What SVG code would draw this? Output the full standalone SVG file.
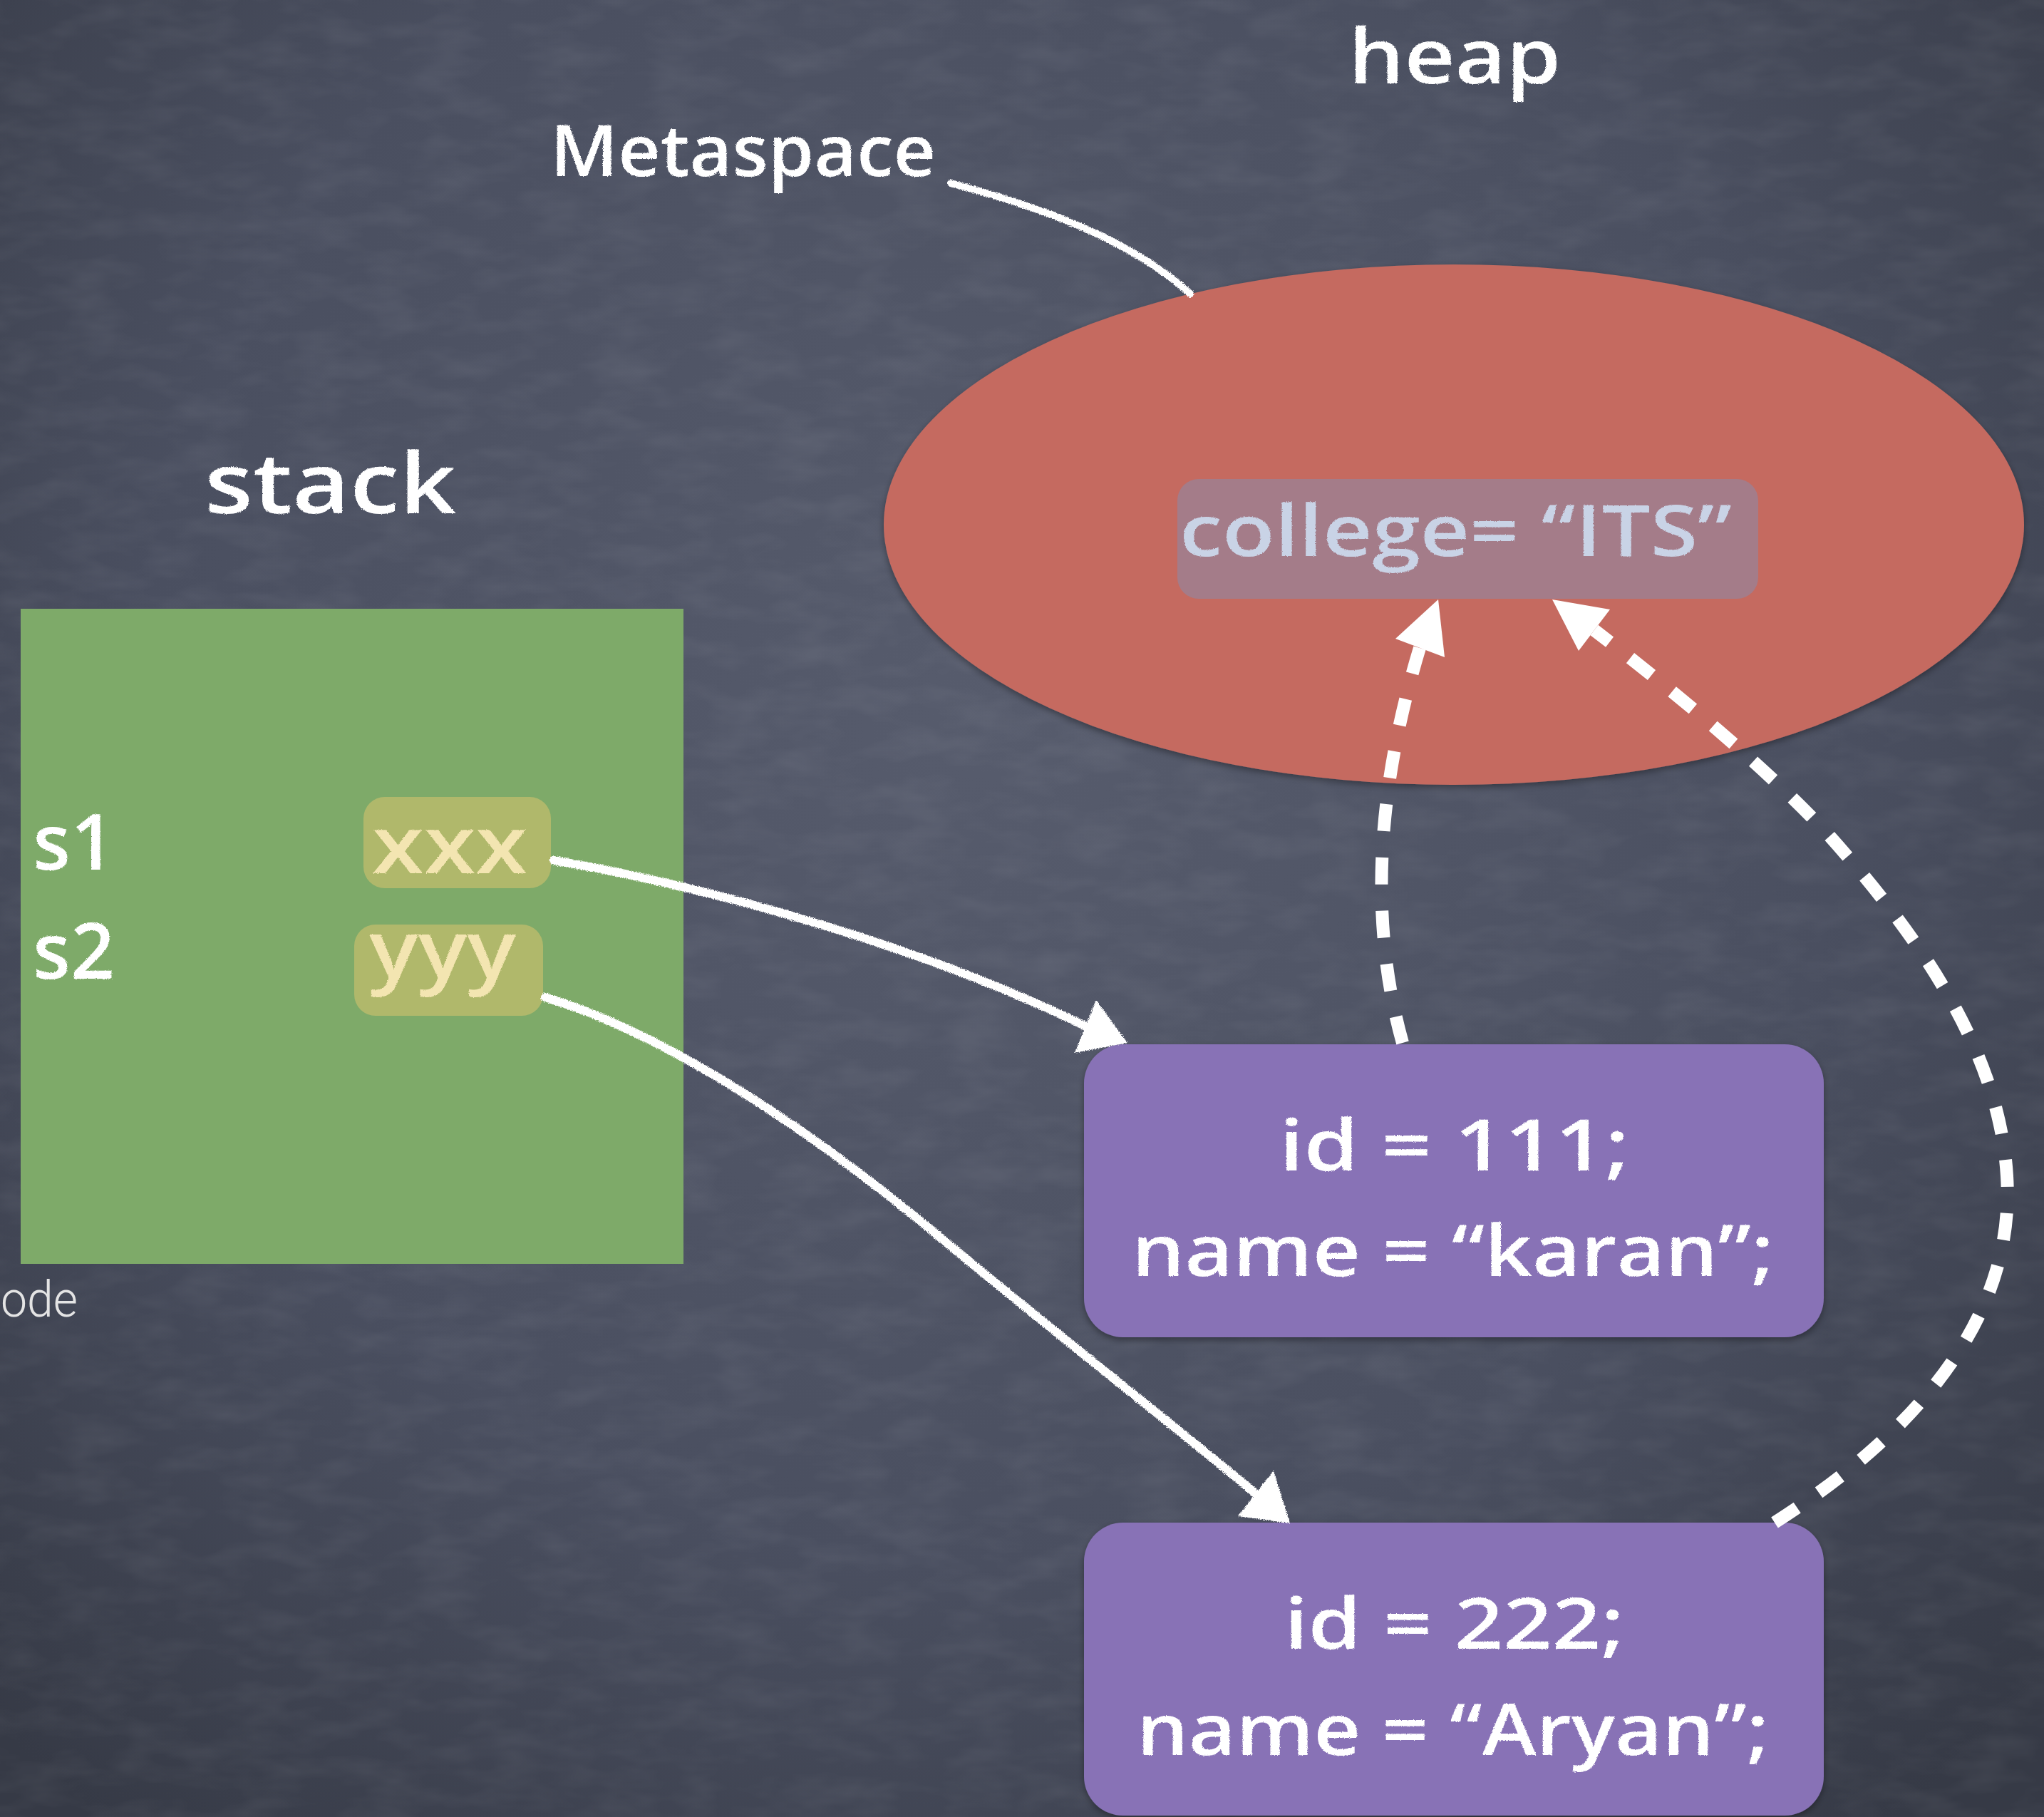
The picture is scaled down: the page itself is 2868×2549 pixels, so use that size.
<svg xmlns="http://www.w3.org/2000/svg" width="2868" height="2549" viewBox="0 0 2868 2549">
  <defs>
    <radialGradient id="board" cx="1400" cy="1000" r="2000" gradientUnits="userSpaceOnUse">
      <stop offset="0" stop-color="#575c6d"/>
      <stop offset="0.6" stop-color="#4a4f60"/>
      <stop offset="1" stop-color="#363a46"/>
    </radialGradient>
    <filter id="grain" x="0" y="0" width="100%" height="100%">
      <feTurbulence type="fractalNoise" baseFrequency="0.012 0.03" numOctaves="3" seed="4" result="n"/>
      <feColorMatrix in="n" type="matrix" values="0 0 0 0 1  0 0 0 0 1  0 0 0 0 1  0 0 0 0.9 -0.35"/>
    </filter>
    <filter id="chalk" x="-5%" y="-5%" width="110%" height="110%">
      <feTurbulence type="fractalNoise" baseFrequency="0.8" numOctaves="2" seed="2" result="n"/>
      <feDisplacementMap in="SourceGraphic" in2="n" scale="5" xChannelSelector="R" yChannelSelector="G"/>
    </filter>
    <filter id="chalkText" x="-5%" y="-10%" width="110%" height="120%">
      <feTurbulence type="fractalNoise" baseFrequency="0.9" numOctaves="2" seed="7" result="n"/>
      <feDisplacementMap in="SourceGraphic" in2="n" scale="3" xChannelSelector="R" yChannelSelector="G"/>
    </filter>
    <filter id="shadow" x="-5%" y="-5%" width="110%" height="115%">
      <feDropShadow dx="0" dy="4" stdDeviation="5" flood-color="#000" flood-opacity="0.35"/>
    </filter>
    <style>
      .chalk { font-family: "Open Sans", "Noto Sans", sans-serif; font-weight: 600; fill: #ffffff; }
      .cream { fill: #f3e5b1; }
      .pale { fill: #c9d3e6; }
      .label { font-family: Roboto, "Open Sans", sans-serif; font-weight: 300; fill: #e4e4e4; }
      .stroke { fill: none; stroke: #ffffff; stroke-linecap: round; }
      .dash { fill: none; stroke: #ffffff; stroke-width: 18; stroke-dasharray: 38 37; }
      .head { fill: #ffffff; }
    </style>
  </defs>

  <!-- chalkboard -->
  <rect width="2868" height="2549" fill="url(#board)"/>
  <rect width="2868" height="2549" filter="url(#grain)" opacity="0.12"/>

  <!-- section titles -->
  <text class="chalk" x="1892" y="117" font-size="106" textLength="298" lengthAdjust="spacingAndGlyphs" filter="url(#chalkText)">heap</text>
  <text class="chalk" x="772" y="247" font-size="100" textLength="541" lengthAdjust="spacingAndGlyphs" filter="url(#chalkText)">Metaspace</text>
  <text class="chalk" x="287" y="720" font-size="118" textLength="353" lengthAdjust="spacingAndGlyphs" filter="url(#chalkText)">stack</text>
  <text class="label" x="1" y="1847" font-size="70" textLength="108" lengthAdjust="spacingAndGlyphs">ode</text>

  <!-- stack frame -->
  <g id="stack">
    <rect x="29" y="854" width="930" height="919" fill="#7eaa69"/>
    <text class="chalk" x="46" y="1220" font-size="108" textLength="115" lengthAdjust="spacingAndGlyphs" filter="url(#chalkText)">s1</text>
    <text class="chalk" x="46" y="1373" font-size="108" textLength="115" lengthAdjust="spacingAndGlyphs" filter="url(#chalkText)">s2</text>
  </g>
  <g id="ref-s1">
    <rect x="510" y="1118" width="263" height="128" rx="30" fill="#b8bb6c" opacity="0.85"/>
    <text class="chalk cream" x="522" y="1225" font-size="112" textLength="218" lengthAdjust="spacingAndGlyphs" filter="url(#chalkText)">xxx</text>
  </g>
  <g id="ref-s2">
    <rect x="497" y="1297" width="265" height="128" rx="30" fill="#b8bb6c" opacity="0.85"/>
    <text class="chalk cream" x="518" y="1372" font-size="112" textLength="206" lengthAdjust="spacingAndGlyphs" filter="url(#chalkText)">yyy</text>
  </g>

  <!-- metaspace area inside the heap -->
  <g id="metaspace">
    <ellipse cx="2040" cy="736" rx="800" ry="365" fill="#c56b61" filter="url(#shadow)"/>
    <rect x="1652" y="672" width="815" height="168" rx="30" fill="#a47c89"/>
    <text class="chalk pale" x="1655" y="780" font-size="100" textLength="775" lengthAdjust="spacingAndGlyphs" filter="url(#chalkText)">college= “ITS”</text>
  </g>

  <!-- heap objects -->
  <g id="student-1">
    <rect x="1521" y="1465" width="1038" height="411" rx="55" fill="#8872b6" filter="url(#shadow)"/>
    <text class="chalk" x="1795" y="1642" font-size="100" textLength="491" lengthAdjust="spacingAndGlyphs" filter="url(#chalkText)">id = 111;</text>
    <text class="chalk" x="1588" y="1790" font-size="100" textLength="901" lengthAdjust="spacingAndGlyphs" filter="url(#chalkText)">name = “karan”;</text>
  </g>
  <g id="student-2">
    <rect x="1521" y="2136" width="1038" height="411" rx="55" fill="#8872b6" filter="url(#shadow)"/>
    <text class="chalk" x="1802" y="2313" font-size="100" textLength="477" lengthAdjust="spacingAndGlyphs" filter="url(#chalkText)">id = 222;</text>
    <text class="chalk" x="1595" y="2462" font-size="100" textLength="887" lengthAdjust="spacingAndGlyphs" filter="url(#chalkText)">name = “Aryan”;</text>
  </g>

  <!-- connectors -->
  <g id="connectors">
    <!-- Metaspace label pointer -->
    <path class="stroke" d="M1334,257 C1440,285 1580,330 1670,412" stroke-width="10" filter="url(#chalk)"/>
    <!-- s1 -> first object -->
    <g filter="url(#chalk)">
      <path class="stroke" d="M777,1207 C1000,1245 1300,1330 1526,1441" stroke-width="12"/>
      <polygon class="head" points="1582,1463 1538,1403 1508,1477"/>
    </g>
    <!-- s2 -> second object -->
    <g filter="url(#chalk)">
      <path class="stroke" d="M765,1399 C900,1440 1080,1540 1300,1720 C1480,1870 1660,2010 1764,2097" stroke-width="12"/>
      <polygon class="head" points="1810,2137 1787,2063 1737,2127"/>
    </g>
    <!-- shared static field references -->
    <path class="dash" d="M1968,1463 C1928,1320 1922,1140 1992,909"/>
    <polygon class="head" points="2018,841 1958,896 2027,922"/>
    <path class="dash" d="M2490,2136 C2640,2040 2830,1880 2816,1650 C2806,1480 2700,1320 2560,1165 C2460,1060 2330,955 2237,884"/>
    <polygon class="head" points="2178,841 2215,913 2259,855"/>
  </g>
</svg>
